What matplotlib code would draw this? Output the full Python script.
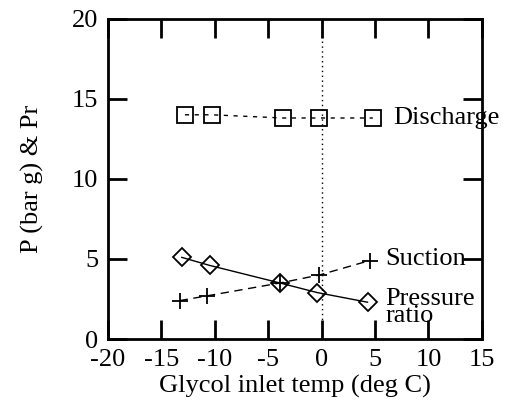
import matplotlib
matplotlib.use('Agg')
import matplotlib.pyplot as plt

plt.rcParams['font.family'] = 'Liberation Serif'
plt.rcParams['font.size'] = 19
plt.rcParams['axes.unicode_minus'] = False

# Glycol inlet temperature (deg C) for each series
temp_discharge = [-12.8, -10.3, -3.6, -0.2, 4.8]
temp_suction = [-13.3, -10.7, -3.9, -0.2, 4.5]
temp_ratio = [-13.1, -10.5, -3.9, -0.4, 4.3]

# Pressures (bar g) and pressure ratio
discharge = [14.0, 14.0, 13.8, 13.8, 13.8]
suction = [2.4, 2.7, 3.5, 4.0, 4.9]
pressure_ratio = [5.1, 4.6, 3.5, 2.9, 2.3]

x_ticks = [-20, -15, -10, -5, 0, 5, 10, 15]
y_ticks = [0, 5, 10, 15, 20]

fig = plt.figure(figsize=(5.05, 4.15), dpi=100)
ax = fig.add_axes([0.214, 0.183, 0.74, 0.772])

ax.axvline(0, color='black', linestyle=(0, (1, 2.5)), linewidth=1.0)

ax.plot(temp_discharge, discharge, color='black', linestyle=(0, (3, 4)), linewidth=1.0,
        marker='s', markersize=11.5, markerfacecolor='none', markeredgewidth=1.3)
ax.plot(temp_suction, suction, color='black', linestyle=(0, (6, 4)), linewidth=1.0,
        marker='+', markersize=12, markeredgewidth=1.3)
ax.plot(temp_ratio, pressure_ratio, color='black', linestyle='-', linewidth=1.0,
        marker='D', markersize=9, markerfacecolor='none', markeredgewidth=1.3)

ax.text(6.7, discharge[-1], 'Discharge', va='center', ha='left')
ax.text(6.0, suction[-1] + 0.1, 'Suction', va='center', ha='left')
ax.text(6.0, 1.95, 'Pressure\nratio', va='center', ha='left', linespacing=0.7)

ax.set_xlim(-20, 15)
ax.set_ylim(0, 20)
ax.set_xticks(x_ticks)
ax.set_yticks(y_ticks)
ax.tick_params(direction='in', length=14, width=2, top=True, right=True,
               labeltop=False, labelright=False, pad=7)
for spine in ax.spines.values():
    spine.set_linewidth(2)

ax.set_xlabel('Glycol inlet temp (deg C)', labelpad=3)
ax.set_ylabel('P (bar g) & Pr', labelpad=20)

fig.savefig('out.png', dpi=100)
